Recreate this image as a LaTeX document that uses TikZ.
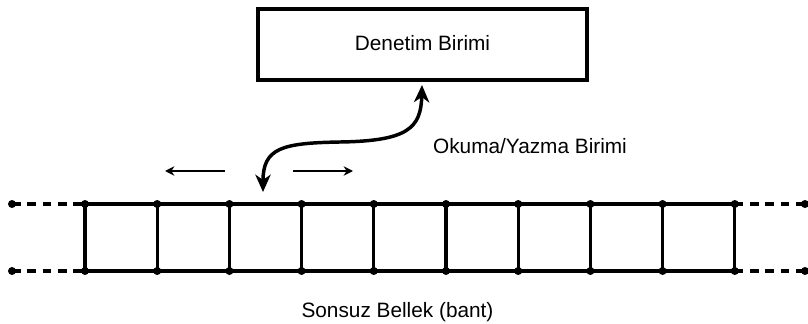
\documentclass[tikz,border=0pt]{standalone}
\usepackage{fontspec}
\setmainfont{Liberation Sans}
\usetikzlibrary{arrows.meta}

\tikzset{
  unitbox/.style={draw, line width=3pt, minimum width=329*0.75pt, minimum height=71*0.75pt, inner sep=0pt},
  tapeline/.style={line width=2.5pt},
  tapeext/.style={line width=2.5pt, dash pattern=on 6.5pt off 5pt},
  joint/.style={circle, fill, inner sep=0pt, minimum size=6pt},
  headarrow/.style={line width=2.6pt, {Stealth[length=13pt,width=11.5pt,inset=4pt]}-{Stealth[length=13pt,width=11.5pt,inset=4pt]}},
  movearrow/.style={line width=1.1pt, -{Stealth[length=7pt,width=7pt,inset=2.2pt]}},
  lbl/.style={font=\fontsize{15.6}{18}\selectfont, inner sep=0pt}
}

\begin{document}
\begin{tikzpicture}[x=0.75pt,y=-0.75pt]
  \useasboundingbox (0,0) rectangle (808,324);

  % control unit
  \node[unitbox] (ctrl) at (422.5,45) {};
  \node[lbl] (ctrltxt) at (422.5,43) {Denetim Birimi};

  % tape: joints on the top and bottom rails
  \foreach \i in {0,...,9} {
    \pgfmathsetmacro{\xx}{85+72.2*\i}
    \node[joint] (t\i) at (\xx,204) {};
    \node[joint] (b\i) at (\xx,271) {};
  }
  \node[joint] (tl) at (12,204) {};
  \node[joint] (bl) at (12,271) {};
  \node[joint] (tr) at (805,204) {};
  \node[joint] (br) at (805,271) {};

  \draw[tapeline] (t0.center) -- (t9.center);
  \draw[tapeline] (b0.center) -- (b9.center);
  \foreach \i in {0,...,9} {
    \draw[tapeline] (t\i.center) -- (b\i.center);
  }
  \draw[tapeext] (tl.center) -- (t0.center);
  \draw[tapeext] (bl.center) -- (b0.center);
  \draw[tapeext] (t9.center) -- (tr.center);
  \draw[tapeext] (b9.center) -- (br.center);

  % read/write head link
  \coordinate (hd) at (263,192);
  \coordinate (hu) at (422,85);
  \draw[headarrow] (hd) .. controls (263,148) and (282,143) .. (340,142)
                         .. controls (408,141) and (421,128) .. (hu);

  % head movement directions
  \coordinate (la) at (225,171);
  \coordinate (lb) at (165,171);
  \coordinate (ra) at (293,171);
  \coordinate (rb) at (353,171);
  \draw[movearrow] (la) -- (lb);
  \draw[movearrow] (ra) -- (rb);

  \node[lbl] (rw) at (530,146) {Okuma/Yazma Birimi};
  \node[lbl] (mem) at (397.5,312) {Sonsuz Bellek (bant)};
\end{tikzpicture}
\end{document}
